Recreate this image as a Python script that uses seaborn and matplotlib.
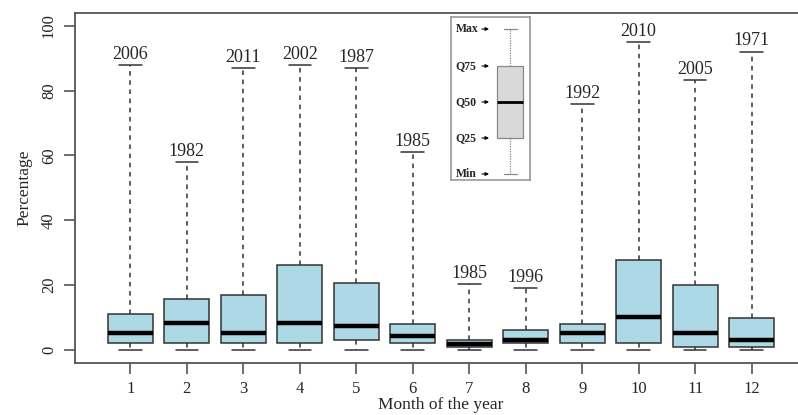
import numpy as np
import pandas as pd
import matplotlib
matplotlib.use('Agg')
import matplotlib.pyplot as plt
import seaborn as sns

# summary values per month
months = [str(m) for m in range(1, 13)]
min_pct = [0, 0, 0, 0, 0, 0, 0, 0, 0, 0, 0, 0]
q25_pct = [2.1, 2.1, 2.1, 2.1, 2.9, 2.1, 1.0, 2.0, 2.1, 2.1, 1.0, 1.0]
median_pct = [5.2, 8.3, 5.2, 8.3, 7.3, 4.1, 1.9, 2.9, 5.2, 10.0, 5.2, 3.0]
q75_pct = [11.0, 15.8, 17.0, 26.2, 20.7, 8.1, 2.9, 6.0, 8.0, 27.7, 20.1, 9.8]
max_pct = [87.8, 58.0, 87.1, 87.8, 87.1, 61.2, 20.2, 19.0, 75.8, 95.1, 83.2, 92.1]
max_year = ['2006', '1982', '2011', '2002', '1987', '1985',
            '1985', '1996', '1992', '2010', '2005', '1971']

# legend inset sample (min, q25, q50, q75, max)
legend_names = ['Min', 'Q25', 'Q50', 'Q75', 'Max']
legend_vals = [6, 42, 78, 114, 151]

# five points per month -> quartiles come out exactly as the values above
rows = []
for i, m in enumerate(months):
    for v in [min_pct[i], q25_pct[i], median_pct[i], q75_pct[i], max_pct[i]]:
        rows.append({'month': m, 'pct': v})
data = pd.DataFrame(rows)

sns.set_theme(style='ticks')
plt.rcParams['font.family'] = ['Liberation Serif', 'DejaVu Serif']

fig = plt.figure(figsize=(7.98, 4.15), dpi=100)
ax = fig.add_axes([75 / 798, 1 - 362.7 / 415, 732 / 798, 349.7 / 415])

sns.boxplot(data=data, x='month', y='pct', order=months, ax=ax,
            whis=np.inf, width=0.8, color='lightblue', saturation=1,
            linecolor='#333333', linewidth=1.1,
            whiskerprops={'linestyle': (0, (3, 3)), 'color': '#333333'},
            capprops={'color': '#333333'},
            medianprops={'color': 'black', 'linewidth': 3.2})

for i, m in enumerate(months):
    ax.annotate(max_year[i], (i, max_pct[i]), xytext=(0, 1.5),
                textcoords='offset points', ha='center', va='bottom',
                fontsize=13)

ax.set_xlim(-0.98, 11.98)
ax.set_ylim(-4, 104)
ax.set_yticks([0, 20, 40, 60, 80, 100])
ax.set_xlabel('Month of the year', fontsize=12.5, labelpad=0)
ax.set_ylabel('Percentage', fontsize=12.5, labelpad=6)
ax.tick_params(axis='both', direction='out', length=8, width=1.2,
               color='#555555', labelsize=12, pad=5)
for lab in ax.get_yticklabels():
    lab.set_rotation(90)
    lab.set_va('center')
for sp in ax.spines.values():
    sp.set_visible(True)
    sp.set_color('#555555')
    sp.set_linewidth(1.3)

# inset legend explaining the box
ax2 = fig.add_axes([451 / 798, 1 - 180 / 415, 79 / 798, 163 / 415])
leg = pd.DataFrame({'g': ['a'] * 5, 'v': legend_vals})
sns.boxplot(data=leg, x='g', y='v', ax=ax2, whis=np.inf, width=0.8,
            color='#d9d9d9', saturation=1, linecolor='#888888', linewidth=0.9,
            whiskerprops={'linestyle': (0, (1, 1)), 'color': '#888888'},
            capprops={'color': '#888888'},
            medianprops={'color': 'black', 'linewidth': 2})
ax2.set_xlim(-1.816, 0.615)
ax2.set_ylim(0, 163)
ax2.set_xticks([])
ax2.set_yticks([])
ax2.set_xlabel('')
ax2.set_ylabel('')
for sp in ax2.spines.values():
    sp.set_visible(True)
    sp.set_color('#999999')
    sp.set_linewidth(1.2)
for name, v in zip(legend_names, legend_vals):
    ax2.text(-1.68, v, name, ha='left', va='center', fontsize=8.5,
             fontweight='bold')
    ax2.annotate('', xy=(-0.56, v), xytext=(-0.95, v),
                 arrowprops=dict(arrowstyle='-|>', color='black', lw=0.8,
                                 mutation_scale=5))

fig.savefig('out.png', dpi=100)
